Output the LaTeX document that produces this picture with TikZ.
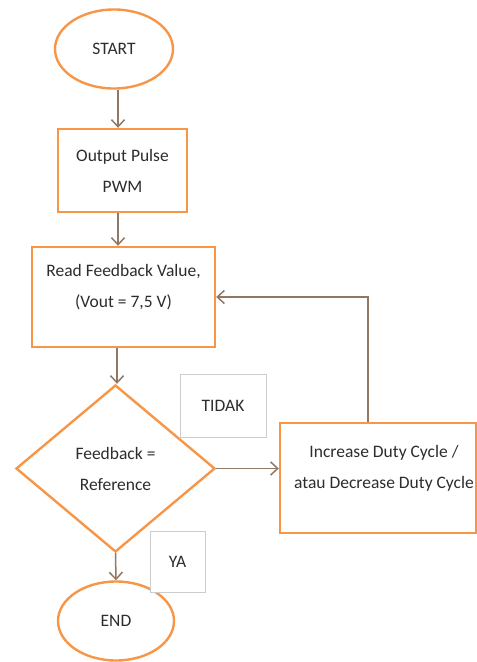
\documentclass[tikz,border=0pt]{standalone}
\usepackage{fontspec}
\setmainfont{Carlito}
\usetikzlibrary{shapes.geometric,arrows.meta}
\definecolor{orng}{RGB}{247,150,70}
\definecolor{connc}{RGB}{145,120,100}
\definecolor{txtc}{RGB}{45,45,45}
\definecolor{lblgray}{RGB}{205,205,205}
\begin{document}
\begin{tikzpicture}[x=1pt,y=-1pt,
  font=\fontsize{17.5}{31}\selectfont, text=txtc,
  term/.style={ellipse, draw=orng, line width=2.4pt, fill=white, inner sep=0pt},
  proc/.style={rectangle, draw=orng, line width=2.4pt, fill=white, inner sep=0pt, align=center},
  decis/.style={diamond, draw=orng, line width=2.4pt, fill=white, inner sep=0pt, align=center},
  lbl/.style={rectangle, draw=lblgray, line width=0.8pt, fill=white, inner sep=0pt},
  conn/.style={draw=connc, line width=1.5pt, -{Straight Barb[length=7pt,width=13pt]}}]
\useasboundingbox (0,0) rectangle (477,662);
\node[term, minimum width=118pt, minimum height=79pt] (start) at (114,49) {START};
\node[proc, minimum width=129pt, minimum height=83pt] (out) at (122.5,170.5) {Output Pulse\\PWM};
\node[proc, minimum width=183pt, minimum height=100pt,
  label={[yshift=9.5pt,align=center]center:Read Feedback Value,\\(Vout = 7,5 V)}] (read) at (123.5,297) {};
\node[decis, minimum width=199pt, minimum height=167pt] (dec) at (115.5,468.5) {Feedback =\\Reference};
\node[proc, minimum width=196pt, minimum height=110pt,
  label={[xshift=6pt,yshift=10pt,align=center]center:Increase Duty Cycle /\\atau Decrease Duty Cycle}] (inc) at (378,478) {};
\node[term, minimum width=116pt, minimum height=79pt] (end) at (116,621) {END};
\node[lbl, minimum width=86pt, minimum height=63pt] (tidak) at (223,405.5) {TIDAK};
\node[lbl, minimum width=55pt, minimum height=61pt] (ya) at (177.5,561.5) {YA};
\draw[conn] ([xshift=4pt]start.south) -- ([xshift=-4.5pt]out.north);
\draw[conn] ([xshift=-4.5pt]out.south) -- ([xshift=-5.5pt]read.north);
\draw[conn] ([xshift=-6.5pt]read.south) -- ([xshift=1.5pt]dec.north);
\draw[conn] (dec.east) -- (inc.west |- dec.east);
\draw[conn] ([xshift=-10pt]inc.north) |- (read.east);
\draw[conn] (dec.south) -- (end.north);
\end{tikzpicture}
\end{document}
